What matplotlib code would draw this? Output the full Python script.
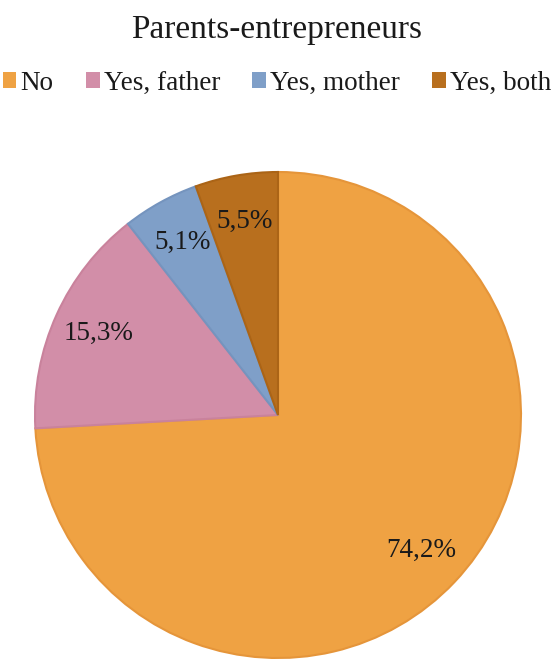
import numpy as np
import matplotlib.pyplot as plt
from matplotlib.patches import Patch

plt.rcParams['font.family'] = ['Liberation Serif', 'DejaVu Serif']

categories = ['No', 'Yes, father', 'Yes, mother', 'Yes, both']
shares = [74.2, 15.3, 5.1, 5.5]
colors = ['#EFA243', '#D28EA8', '#7F9FC8', '#B86F1E']
edge_colors = ['#E5953A', '#C9829C', '#7594BE', '#AB6416']

fig = plt.figure(figsize=(5.54, 6.59), dpi=100)
ax = fig.add_axes([35 / 554, 1 / 659, 486 / 554, 486 / 659])

wedges, _ = ax.pie(shares, colors=colors, startangle=90, counterclock=False,
                   wedgeprops=dict(linewidth=1.5), frame=False)
for w, ec in zip(wedges, edge_colors):
    w.set_edgecolor(ec)
ax.set_xlim(-1, 1)
ax.set_ylim(-1, 1)
ax.set_aspect('equal')
ax.axis('off')

# percentage labels inside the slices
for w, v in zip(wedges, shares):
    mid = np.deg2rad((w.theta1 + w.theta2) / 2)
    r = 0.81
    ax.text(r * np.cos(mid), r * np.sin(mid), f'{v:.1f}%'.replace('.', ','),
            ha='center', va='center', fontsize=19.5, color='#1a1a1a')

fig.text(0.5, 1 - 30 / 659, 'Parents-entrepreneurs', ha='center', va='center',
         fontsize=24, color='#1a1a1a')

handles = [Patch(facecolor=c, edgecolor='none') for c in colors]
fig.legend(handles, categories, loc='center', bbox_to_anchor=(0.5, 1 - 83 / 659),
           ncol=4, frameon=False, fontsize=19.5, handlelength=0.5, handleheight=0.5,
           handletextpad=0.15, columnspacing=1.2, labelcolor='#1a1a1a',
           borderpad=0, borderaxespad=0)

fig.savefig('out.png', dpi=100)
